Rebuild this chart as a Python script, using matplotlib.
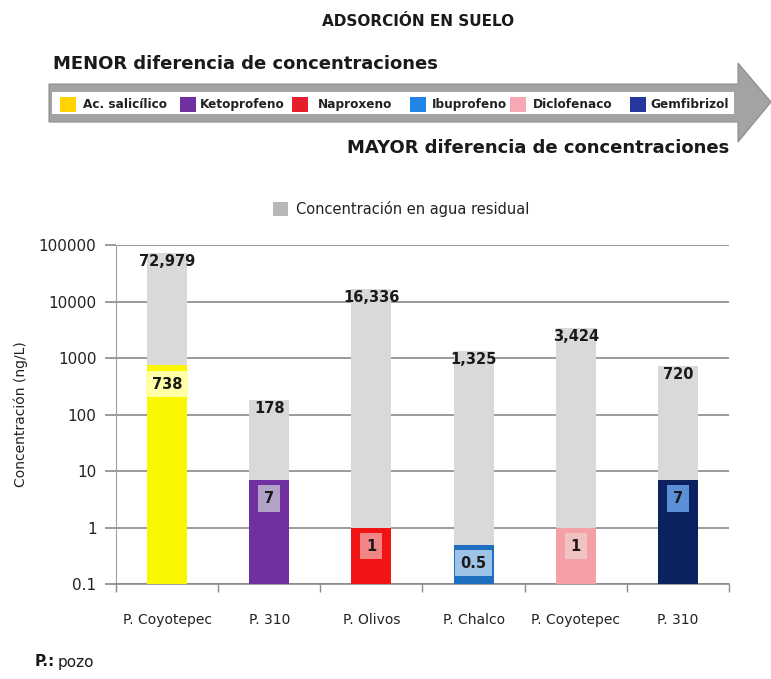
import matplotlib
matplotlib.use("Agg")
import matplotlib.pyplot as plt
from matplotlib.patches import Polygon, Rectangle, Patch
from matplotlib.ticker import NullLocator

# ---------------- data ----------------
wells = ["P. Coyotepec", "P. 310", "P. Olivos", "P. Chalco", "P. Coyotepec", "P. 310"]
drugs = ["Ac. salicílico", "Ketoprofeno", "Naproxeno", "Ibuprofeno", "Diclofenaco", "Gemfibrizol"]
total_conc = [72979, 178, 16336, 1325, 3424, 720]          # Concentración en agua residual
drug_conc = [738, 7, 1, 0.5, 1, 7]
drug_labels = ["738", "7", "1", "0.5", "1", "7"]
yticks = [0.1, 1, 10, 100, 1000, 10000, 100000]
ytick_labels = ["0.1", "1", "10", "100", "1000", "10000", "100000"]

# ---------------- styles ----------------
bar_colors = ["#FAF700", "#7030A0", "#F01414", "#1F6FC0", "#F4A0A6", "#0C2260"]
box_colors = ["#FFFFA6", "#B3A2C7", "#F28585", "#9DC3E6", "#F0C2C2", "#5B8FD6"]
legend_colors = ["#FFD400", "#7030A0", "#E41E2B", "#2185E8", "#F6A8B4", "#26389C"]
grey = "#D9D9D9"

W, H = 771, 679
fig = plt.figure(figsize=(W / 100, H / 100), dpi=100)
fig.patch.set_facecolor("white")


def fx(px):
    return px / W


def fy(py):
    return 1 - py / H


# ---------------- header / arrow ----------------
fig.text(fx(418), fy(22), "ADSORCIÓN EN SUELO", ha="center", va="center",
         fontsize=11, fontweight="bold", color="#1a1a1a")
fig.text(fx(53), fy(64), "MENOR diferencia de concentraciones", ha="left", va="center",
         fontsize=13, fontweight="bold", color="#1a1a1a")
fig.text(fx(729), fy(148), "MAYOR diferencia de concentraciones", ha="right", va="center",
         fontsize=13, fontweight="bold", color="#1a1a1a")

arrow_pts = [(49, 84), (738, 84), (738, 63), (771, 102), (738, 142), (738, 122), (49, 122)]
fig.patches.append(Polygon([(fx(x), fy(y)) for x, y in arrow_pts], closed=True,
                           transform=fig.transFigure, facecolor="#A3A3A3",
                           edgecolor="#8C8C8C", linewidth=0.8, zorder=1))
fig.patches.append(Rectangle((fx(52), fy(114)), fx(734) - fx(52), fy(92) - fy(114),
                             transform=fig.transFigure, facecolor="white",
                             edgecolor="none", zorder=2))

sq_left = [60, 180, 292, 410, 510, 630]
txt_left = [83, 200, 318, 432, 533, 650]
for i, name in enumerate(drugs):
    fig.patches.append(Rectangle((fx(sq_left[i]), fy(112)), fx(16), 15 / H,
                                 transform=fig.transFigure, facecolor=legend_colors[i],
                                 edgecolor="none", zorder=3))
    fig.text(fx(txt_left[i]), fy(104.5), name, ha="left", va="center",
             fontsize=8.7, fontweight="bold", color="#222222", zorder=4)

# ---------------- chart ----------------
ax = fig.add_axes([fx(116), fy(584), fx(729) - fx(116), fy(245) - fy(584)])
ax.set_yscale("log")
ax.set_ylim(0.1, 100000)
ax.set_xlim(-0.5, len(wells) - 0.5)

x = list(range(len(wells)))
bw = 0.39
ax.bar(x, total_conc, width=bw, color=grey, zorder=2)
ax.bar(x, drug_conc, width=bw, color=bar_colors, zorder=3)

for i in x:
    ax.annotate(f"{total_conc[i]:,}", xy=(i, total_conc[i]), xytext=(0, -6),
                textcoords="offset points", ha="center", va="center",
                fontsize=10.5, fontweight="bold", color="#1a1a1a", zorder=5)
    ax.annotate(drug_labels[i], xy=(i, drug_conc[i]), xytext=(0, -8),
                textcoords="offset points", ha="center", va="top",
                fontsize=10.5, fontweight="bold", color="#1a1a1a", zorder=5,
                bbox=dict(boxstyle="square,pad=0.4", facecolor=box_colors[i],
                          edgecolor="none"))

ax.set_yticks(yticks)
ax.set_yticklabels(ytick_labels, fontsize=11, color="#222222")
ax.yaxis.set_minor_locator(NullLocator())
ax.tick_params(axis="y", which="major", length=8, width=1.2, color="#8A8A8A", pad=6)

ax.set_xticks(x)
ax.set_xticklabels(wells, fontsize=10, color="#222222")
ax.set_xticks([i - 0.5 for i in range(len(wells) + 1)], minor=True)
ax.tick_params(axis="x", which="major", length=0, pad=21)
ax.tick_params(axis="x", which="minor", length=6, width=1.0, color="#8A8A8A")

ax.grid(axis="y", which="major", color="#8A8A8A", linewidth=1.2, zorder=0)
ax.set_axisbelow(True)
for s in ["top", "right"]:
    ax.spines[s].set_visible(False)
ax.spines["left"].set_color("#A0A0A0")
ax.spines["bottom"].set_color("#8A8A8A")
ax.spines["bottom"].set_linewidth(1.2)

ax.set_ylabel("Concentración (ng/L)", fontsize=10, color="#222222", labelpad=8)

fig.legend(handles=[Patch(facecolor="#B8B8B8", edgecolor="none")],
           labels=["Concentración en agua residual"], loc="center",
           bbox_to_anchor=(fx(401), fy(209)), frameon=False, fontsize=10.5,
           handlelength=1.05, handleheight=1.05, handletextpad=0.5,
           labelcolor="#222222")

# footnote
fig.text(fx(35), fy(662), "P.:", ha="left", va="center", fontsize=11,
         fontweight="bold", color="#1a1a1a")
fig.text(fx(58), fy(662), "pozo", ha="left", va="center", fontsize=11, color="#1a1a1a")

fig.savefig("out.png", dpi=100)
